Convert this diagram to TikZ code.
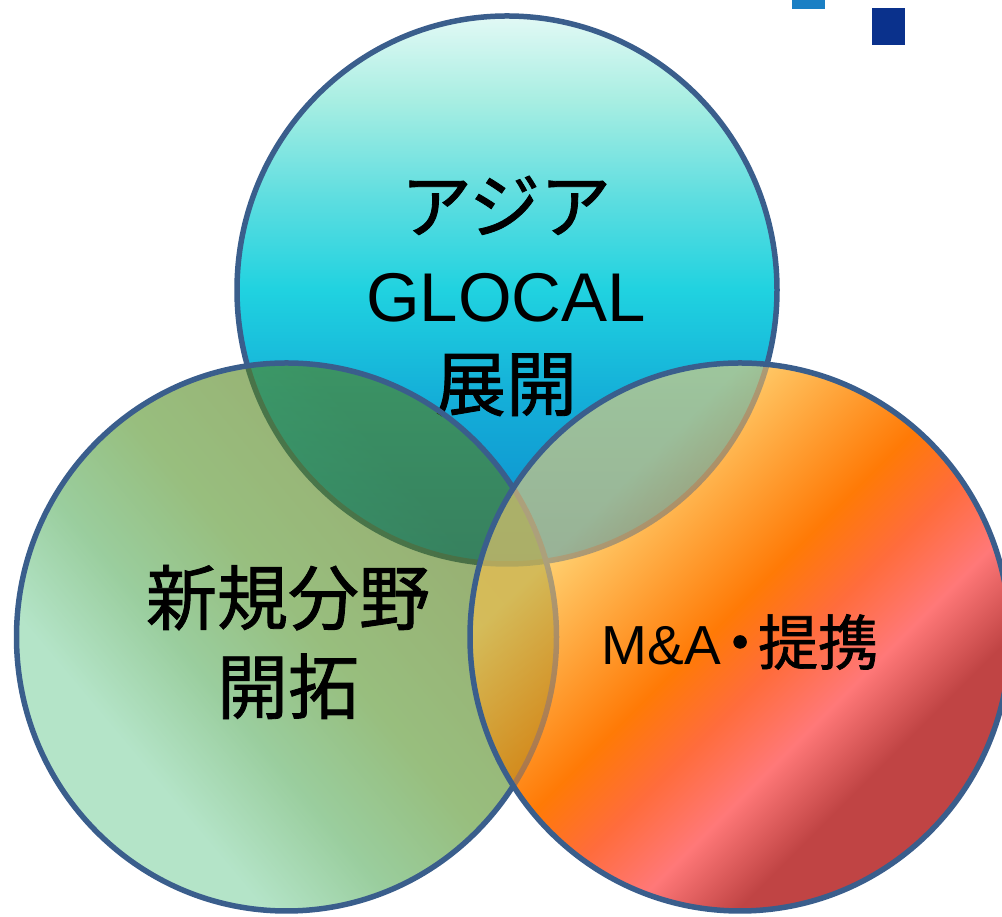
\documentclass[tikz,border=0pt]{standalone}
\usepackage{fontspec}
\newfontfamily\jp{Noto Sans CJK JP}[FakeBold=1.2]
\newfontfamily\lat{Liberation Sans}
\definecolor{bordercol}{RGB}{58,94,140}
\definecolor{t1}{HTML}{E2F9F5}
\definecolor{t2}{HTML}{A8EEE2}
\definecolor{t3}{HTML}{5CDDE0}
\definecolor{t4}{HTML}{20D2E0}
\definecolor{t5}{HTML}{14AED8}
\definecolor{t6}{HTML}{0C88CC}
\definecolor{l0}{RGB}{130,210,163}
\definecolor{l1}{RGB}{86,172,92}
\definecolor{l2}{RGB}{83,147,40}
\definecolor{l3}{RGB}{84,124,22}
\definecolor{r0}{HTML}{FFD070}
\definecolor{r1}{HTML}{FF7A06}
\definecolor{r2}{RGB}{255,108,60}
\definecolor{r3}{HTML}{FF7878}
\definecolor{r4}{HTML}{C04444}
\definecolor{sqlight}{HTML}{1A7FC4}
\definecolor{sqdark}{HTML}{0A318C}
\pgfdeclareverticalshading{topshade}{100bp}{color(0bp)=(t6); color(25bp)=(t6); color(40bp)=(t5); color(50bp)=(t4); color(58.2bp)=(t3); color(67.3bp)=(t2); color(75bp)=(t1); color(100bp)=(t1)}
\pgfdeclareverticalshading{leftshade}{100bp}{color(0bp)=(l0); color(32.3bp)=(l0); color(42bp)=(l1); color(52bp)=(l2); color(67.7bp)=(l3); color(100bp)=(l3)}
\pgfdeclareverticalshading{rightshade}{100bp}{color(0bp)=(r4); color(32.3bp)=(r4); color(39.4bp)=(r3); color(45.8bp)=(r2); color(52.1bp)=(r1); color(67.7bp)=(r0); color(100bp)=(r0)}
\newcommand\myTopDisk{\shadedraw[ring, shading=topshade] (507,627) ellipse [x radius=270pt, y radius=274pt];}
\newcommand\myLeftDisk{\shadedraw[ring, shading=leftshade, shading angle=-50, fill opacity=0.6] (286.5,280) ellipse [x radius=270pt, y radius=274pt];}
\begin{document}
\begin{tikzpicture}[x=1pt,y=1pt,
  ring/.style={draw=bordercol, line width=5.5pt},
  bigtext/.style={align=center, inner sep=0pt, font=\jp\fontsize{71}{89}\selectfont},
  midtext/.style={align=center, inner sep=0pt, font=\jp\fontsize{60}{70}\selectfont}]
\useasboundingbox (0,0) rectangle (1002,917);
% small squares
\fill[sqlight] (792,908) rectangle (825,917);
\fill[sqdark] (872,872) rectangle (905,909);
% top circle
\myTopDisk
\node[bigtext] (asia) at (506,621) {アジア\\{\lat\fontsize{69}{89}\selectfont GLOCAL}\\展開};
% left circle
\myLeftDisk
\node[bigtext] (newfield) at (288,275) {新規分野\\開拓};
% right circle: opaque fill, then the others seen through it
\shade[shading=rightshade, shading angle=45] (740,280) ellipse [x radius=270pt, y radius=274pt];
\begin{scope}
  \clip (740,280) ellipse [x radius=270pt, y radius=274pt];
  \begin{scope}[transparency group, opacity=0.42]
    \myTopDisk
    \myLeftDisk
  \end{scope}
\end{scope}
\draw[ring] (740,280) ellipse [x radius=270pt, y radius=274pt];
\node[midtext] (ma) at (740,275) {{\lat\fontsize{55}{70}\selectfont M\&A}\kern-11pt・\kern-12pt 提携};
\end{tikzpicture}
\end{document}
